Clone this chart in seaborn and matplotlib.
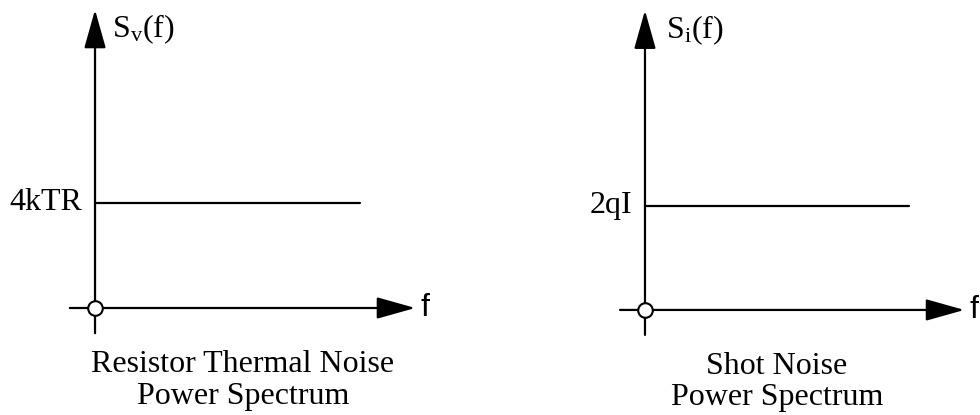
import matplotlib
matplotlib.use('Agg')
import matplotlib.pyplot as plt
import seaborn as sns

# noise spectra (flat / white), level normalised to 1
titles = ['Resistor Thermal Noise\nPower Spectrum', 'Shot Noise\nPower Spectrum']
y_labels = [r'$\mathrm{S_v(f)}$', r'$\mathrm{S_i(f)}$']
level_labels = ['4kTR', '2qI']
levels = [1.0, 1.0]
f_start = [0.0, 0.0]
f_end = [2.52, 2.54]

sns.set_style('white')
plt.rcParams['font.family'] = ['Liberation Serif', 'DejaVu Serif']
plt.rcParams['text.color'] = 'black'
plt.rcParams['mathtext.fontset'] = 'custom'
plt.rcParams['mathtext.rm'] = 'Liberation Serif'
plt.rcParams['mathtext.it'] = 'Liberation Serif:italic'

fig = plt.figure(figsize=(9.8, 4.15), dpi=100)

# axes placement (figure fraction) and limits so the origin lands where it should
boxes = [[0.0, 0.0, 0.5, 1.0], [0.5, 0.0, 0.5, 1.0]]
xlims = [(-0.905, 3.762), (-1.49, 3.221)]
ylims = [(-1.019, 2.933), (-1.01, 2.98)]
ytop = [2.84, 2.88]
xtip = [3.05, 3.07]
title_x = [1.41, 1.27]
ylab_x = [0.16, 0.20]
ylab_y = [2.65, 2.69]

arrow = dict(arrowstyle='-|>,head_length=1.6,head_width=0.45', mutation_scale=15,
             lw=1.6, color='black', shrinkA=0, shrinkB=0)

for i in range(2):
    ax = fig.add_axes(boxes[i])
    ax.set_xlim(*xlims[i])
    ax.set_ylim(*ylims[i])
    ax.axis('off')

    # axes with arrowheads
    ax.annotate('', xy=(0, ytop[i]), xytext=(0, -0.24), arrowprops=arrow)
    ax.annotate('', xy=(xtip[i], 0), xytext=(-0.24, 0), arrowprops=arrow)

    # flat spectrum
    sns.lineplot(x=[f_start[i], f_end[i]], y=[levels[i], levels[i]], ax=ax,
                 color='black', linewidth=1.6)

    # origin circle
    ax.plot([0], [0], marker='o', markersize=10.5, markerfacecolor='white',
            markeredgecolor='black', markeredgewidth=1.5, zorder=5)

    ax.text(-0.12, levels[i], level_labels[i], ha='right', va='center', fontsize=23)
    ax.text(ylab_x[i], ylab_y[i], y_labels[i], ha='left', va='center', fontsize=23)
    ax.text(xtip[i] + 0.05, 0, 'f', ha='left', va='center', fontsize=23,
            family=['Liberation Sans', 'DejaVu Sans'])
    ax.text(title_x[i], -0.69, titles[i], ha='center', va='center', fontsize=23,
            linespacing=1.1)

fig.savefig('out.png', dpi=100)
